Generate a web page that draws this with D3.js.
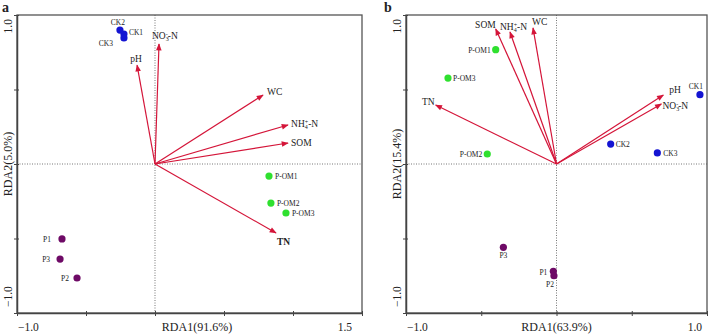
<!DOCTYPE html>
<html>
<head>
<meta charset="utf-8">
<script src="https://cdn.jsdelivr.net/npm/d3@7"></script>
<style>
  body { margin: 0; background: #fff; }
  svg { display: block; }
  text { font-family: "Liberation Serif", "Times New Roman", serif; fill: #222; }
</style>
</head>
<body>
<svg id="chart" width="708" height="334"></svg>
<script>
// values
const siteNames = ["CK1", "CK2", "CK3", "P-OM1", "P-OM2", "P-OM3", "P1", "P2", "P3"];
const sitesAx = [-0.225, -0.254, -0.225, 0.826, 0.84, 0.949, -0.674, -0.565, -0.688];
const sitesAy = [0.872, 0.899, 0.846, -0.081, -0.262, -0.329, -0.503, -0.765, -0.638];
const sitesBx = [0.953, 0.36, 0.67, -0.404, -0.46, -0.721, -0.021, -0.017, -0.353];
const sitesBy = [0.465, 0.134, 0.074, 0.767, 0.067, 0.577, -0.72, -0.75, -0.559];

const envNames = ["pH", "NO3-N", "WC", "NH4-N", "SOM", "TN"];
const envAx = [-0.13, 0.029, 0.783, 0.964, 0.964, 0.877];
const envAy = [0.664, 0.805, 0.463, 0.262, 0.141, -0.463];
const envBx = [0.71, 0.697, -0.156, -0.309, -0.404, -0.803];
const envBy = [0.463, 0.403, 0.913, 0.886, 0.906, 0.396];

const xTicksA = [-1, -0.5, 0, 0.5, 1, 1.5];
const xTicksB = [-1, -0.5, 0, 0.5, 1];
const yTicks = [-1, -0.5, 0, 0.5, 1];
const panelLetters = ["a", "b"];
const xTitles = ["RDA1(91.6%)", "RDA1(63.9%)"];
const yTitles = ["RDA2(5.0%)", "RDA2(15.4%)"];

const svg = d3.select("#chart");
const arrowColor = "#d41539";
const groupColor = name => name.startsWith("CK") ? "#1414d2" : name.startsWith("P-OM") ? "#2fe02f" : "#6e0a66";

svg.append("defs").append("marker")
    .attr("id", "head")
    .attr("markerUnits", "userSpaceOnUse")
    .attr("viewBox", "0 0 10 10")
    .attr("refX", 9).attr("refY", 5)
    .attr("markerWidth", 8).attr("markerHeight", 7)
    .attr("orient", "auto")
  .append("path")
    .attr("d", "M0,1 L10,5 L0,9 Z")
    .attr("fill", arrowColor);

// label placement: [dx, dy, anchor]
const siteLabelPos = [
  {CK1: [5, 1, "start"], CK2: [-2, -5, "middle"], CK3: [-11, 8, "end"],
   "P-OM1": [6, 3, "start"], "P-OM2": [6, 3, "start"], "P-OM3": [6, 3, "start"],
   P1: [-11, 3, "end"], P2: [-8, 3, "end"], P3: [-10, 3, "end"]},
  {CK1: [-4, -6, "middle"], CK2: [5, 3, "start"], CK3: [6, 3, "start"],
   "P-OM1": [-5, 3, "end"], "P-OM2": [-5, 3, "end"], "P-OM3": [5, 3, "start"],
   P1: [-6, 4, "end"], P2: [-4, 11, "middle"], P3: [0, 11, "middle"]}
];
const envLabelPos = [
  {pH: [-1, -3, "middle"], "NO3-N": [-7, -5, "start"], WC: [4, 0, "start"],
   "NH4-N": [3, 2, "start"], SOM: [3, 3, "start"], TN: [1, 12, "start"]},
  {pH: [6, -2, "start"], "NO3-N": [1, 5, "start"], WC: [-1, -3, "start"],
   "NH4-N": [-10, -2, "start"], SOM: [0, -1, "end"], TN: [-1, 0, "end"]}
];

const panels = [
  {left: 17, right: 362, top: 15, bottom: 313, xDom: [-1, 1.5], xTicks: xTicksA,
   sx: sitesAx, sy: sitesAy, ex: envAx, ey: envAy},
  {left: 406, right: 707, top: 15, bottom: 313, xDom: [-1, 1], xTicks: xTicksB,
   sx: sitesBx, sy: sitesBy, ex: envBx, ey: envBy}
];

function envText(sel, name) {
  if (name === "NO3-N" || name === "NH4-N") {
    sel.append("tspan").text(name.slice(0, 2));
    sel.append("tspan").attr("dy", 2).attr("font-size", "6px").text(name[2]);
    sel.append("tspan").attr("dy", -5).attr("dx", -3).attr("font-size", "6px").text(name === "NO3-N" ? "-" : "+");
    sel.append("tspan").attr("dy", 3).text("-N");
  } else {
    sel.text(name);
  }
}

panels.forEach((p, pi) => {
  const x = d3.scaleLinear().domain(p.xDom).range([p.left, p.right]);
  const y = d3.scaleLinear().domain([-1, 1]).range([p.bottom, p.top]);
  const g = svg.append("g");

  // dotted zero lines
  g.append("line").attr("x1", x(0)).attr("x2", x(0)).attr("y1", p.top).attr("y2", p.bottom)
    .attr("stroke", "#777").attr("stroke-width", 1).attr("stroke-dasharray", "1,1.5");
  g.append("line").attr("x1", p.left).attr("x2", p.right).attr("y1", y(0)).attr("y2", y(0))
    .attr("stroke", "#777").attr("stroke-width", 1).attr("stroke-dasharray", "1,1.5");

  // frame
  g.append("rect").attr("x", p.left).attr("y", p.top)
    .attr("width", p.right - p.left).attr("height", p.bottom - p.top)
    .attr("fill", "none").attr("stroke", "#555").attr("stroke-width", 1.3);

  // axes with crossing ticks
  g.append("g").attr("transform", `translate(0,${p.bottom})`)
    .call(d3.axisBottom(x).tickValues(p.xTicks).tickSize(3).tickFormat("").tickSizeOuter(0))
    .call(a => a.select(".domain").attr("stroke", "#444").attr("stroke-width", 1.5))
    .call(a => a.selectAll(".tick line").attr("y1", -2).attr("stroke", "#444"));
  g.append("g").attr("transform", `translate(${p.left},0)`)
    .call(d3.axisLeft(y).tickValues(yTicks).tickSize(3).tickFormat("").tickSizeOuter(0))
    .call(a => a.select(".domain").attr("stroke", "#444").attr("stroke-width", 1.5))
    .call(a => a.selectAll(".tick line").attr("x1", 2).attr("stroke", "#444"));

  // end tick labels
  const xt = p.xTicks;
  g.append("text").attr("x", x(xt[0]) + 1).attr("y", 331).attr("font-size", "11.5px")
    .attr("text-anchor", "start").text(d3.format(".1f")(xt[0]));
  g.append("text").attr("x", x(xt[xt.length - 1]) - (pi === 0 ? 10 : 5)).attr("y", 331).attr("font-size", "11.5px")
    .attr("text-anchor", "end").text(d3.format(".1f")(xt[xt.length - 1]));
  g.append("text").attr("transform", `translate(${p.left - 5},${y(1) + 4}) rotate(-90)`)
    .attr("font-size", "11.5px").attr("text-anchor", "end").text(d3.format(".1f")(yTicks[yTicks.length - 1]));
  g.append("text").attr("transform", `translate(${p.left - 5},${y(-1) - 6}) rotate(-90)`)
    .attr("font-size", "11.5px").attr("text-anchor", "start").text(d3.format(".1f")(yTicks[0]));

  // axis titles
  g.append("text").attr("x", x(0) + (pi === 0 ? 42 : 0)).attr("y", 331).attr("font-size", "12px")
    .attr("text-anchor", "middle").text(xTitles[pi]);
  g.append("text").attr("transform", `translate(${p.left - 5},${y(0)}) rotate(-90)`)
    .attr("font-size", "12px").attr("text-anchor", "middle").text(yTitles[pi]);

  // panel letter
  g.append("text").attr("x", pi === 0 ? 2 : 384).attr("y", 12).attr("font-size", "14px")
    .attr("font-weight", "bold").text(panelLetters[pi]);

  // environmental arrows
  envNames.forEach((name, i) => {
    const tx = x(p.ex[i]), ty = y(p.ey[i]);
    g.append("line").attr("x1", x(0)).attr("y1", y(0)).attr("x2", tx).attr("y2", ty)
      .attr("stroke", arrowColor).attr("stroke-width", 1.2).attr("marker-end", "url(#head)");
    const [dx, dy, anchor] = envLabelPos[pi][name];
    const t = g.append("text").attr("x", tx + dx).attr("y", ty + dy)
      .attr("font-size", "9.5px").attr("text-anchor", anchor)
      .attr("font-weight", pi === 0 && name === "TN" ? "bold" : "normal");
    envText(t, name);
  });

  // sites
  siteNames.forEach((name, i) => {
    const cx = x(p.sx[i]), cy = y(p.sy[i]);
    g.append("circle").attr("cx", cx).attr("cy", cy).attr("r", 3.6).attr("fill", groupColor(name));
    const [dx, dy, anchor] = siteLabelPos[pi][name];
    g.append("text").attr("x", cx + dx).attr("y", cy + dy)
      .attr("font-size", "7.5px").attr("text-anchor", anchor).text(name);
  });
});
</script>
</body>
</html>
